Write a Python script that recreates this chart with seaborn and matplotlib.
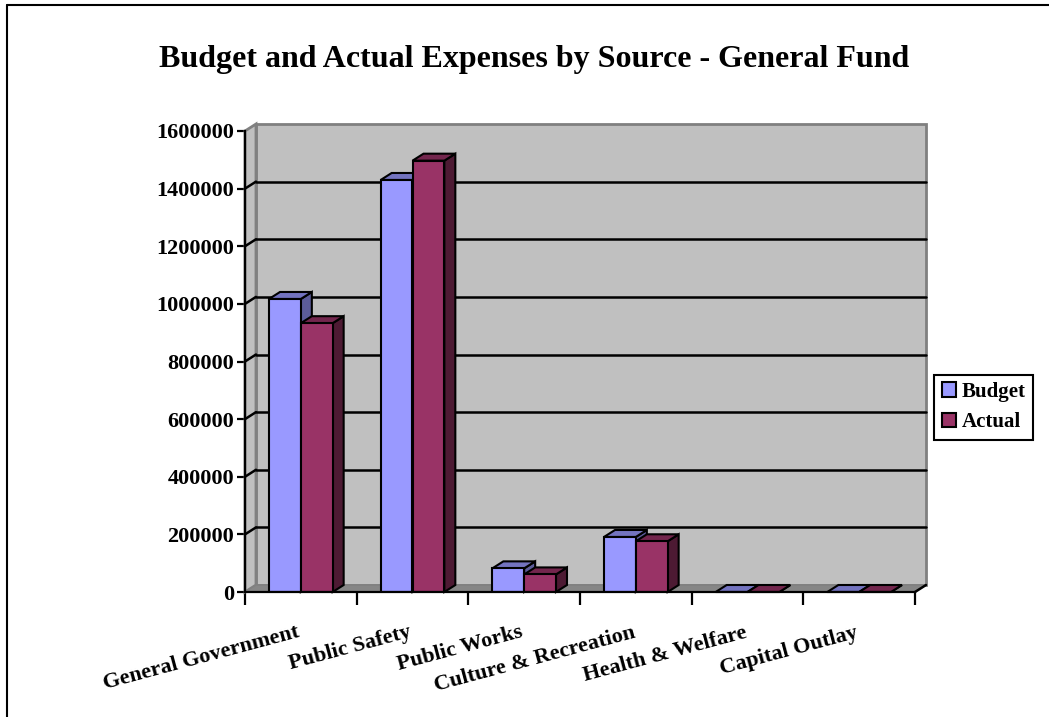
import numpy as np
import pandas as pd
import matplotlib
matplotlib.use("Agg")
import matplotlib.pyplot as plt
import matplotlib.transforms as mtransforms
from matplotlib.patches import Polygon, Rectangle, Patch
from matplotlib.lines import Line2D
import seaborn as sns

# data
categories = ["General Government", "Public Safety", "Public Works",
              "Culture & Recreation", "Health & Welfare", "Capital Outlay"]
budget = [1017000, 1430000, 82000, 191000, 0, 0]
actual = [933000, 1497000, 61000, 176000, 0, 0]
series = ["Budget", "Actual"]
yticks = [0, 200000, 400000, 600000, 800000, 1000000, 1200000, 1400000, 1600000]

front_colors = {"Budget": "#9999FF", "Actual": "#993366"}
top_colors = {"Budget": "#7373BF", "Actual": "#73264D"}
side_colors = {"Budget": "#5C5C99", "Actual": "#4D1A33"}

df = pd.DataFrame({
    "category": categories * 2,
    "series": ["Budget"] * len(categories) + ["Actual"] * len(categories),
    "value": budget + actual,
})

sns.set_style("white")
plt.rcParams["font.family"] = ["Liberation Serif", "DejaVu Serif"]
plt.rcParams["font.weight"] = "bold"
plt.rcParams["text.color"] = "black"
plt.rcParams["xtick.color"] = "black"
plt.rcParams["ytick.color"] = "black"

W, H, DPI = 1049, 717, 100
fig = plt.figure(figsize=(W / DPI, H / DPI), dpi=DPI)
ax = fig.add_axes([245 / W, (H - 592) / H, 670 / W, (592 - 131) / H])

sns.barplot(data=df, x="category", y="value", hue="series", order=categories,
            hue_order=series, palette=front_colors, width=0.57,
            edgecolor="black", linewidth=1.5, saturation=1, legend=False,
            ax=ax, zorder=3)

ax.set_xlim(-0.5, len(categories) - 0.5)
ax.set_ylim(0, 1600000)
ax.patch.set_visible(False)
ax.set_xlabel("")
ax.set_ylabel("")

# depth offset of the 3d look, in pixels
DX, DY = 11, 7
ident = mtransforms.IdentityTransform()
off = mtransforms.ScaledTranslation(DX / DPI, DY / DPI, fig.dpi_scale_trans)


def disp(x, y, tr):
    return tr.transform((x, y))


# back wall, side wall, floor
p00 = disp(0, 0, ax.transAxes)
p01 = disp(0, 1, ax.transAxes)
p10 = disp(1, 0, ax.transAxes)
d = np.array([DX, DY])
ax.add_patch(Rectangle((0, 0), 1, 1, transform=ax.transAxes + off,
                       facecolor="#C0C0C0", edgecolor="#808080", lw=2,
                       clip_on=False, zorder=0.5))
ax.add_patch(Polygon([p00, p01, p01 + d, p00 + d], closed=True, transform=ident,
                     facecolor="#C0C0C0", edgecolor="#808080", lw=2,
                     clip_on=False, zorder=0.6))
ax.add_patch(Polygon([p00, p10, p10 + d, p00 + d], closed=True, transform=ident,
                     facecolor="#868686", edgecolor="#808080", lw=1,
                     clip_on=False, zorder=0.6))

# gridlines on the back wall and connectors on the side wall
ytr = ax.get_yaxis_transform()
for t in yticks[1:-1]:
    ax.add_line(Line2D([0, 1], [t, t], transform=ytr + off,
                       color="black", lw=1.8, clip_on=False, zorder=1))
    a = disp(0, t, ytr)
    ax.add_line(Line2D([a[0], a[0] + DX], [a[1], a[1] + DY], transform=ident,
                       color="black", lw=1.8, clip_on=False, zorder=1))
ax.add_line(Line2D([p10[0], p10[0] + DX], [p10[1], p10[1] + DY], transform=ident,
                   color="black", lw=1.8, clip_on=False, zorder=4))

# top and side faces of the bars
bars = sorted([p for p in ax.patches if p.get_zorder() == 3], key=lambda p: p.get_x())
for i, bar in enumerate(bars):
    s = series[i % 2]
    x0, x1 = bar.get_x(), bar.get_x() + bar.get_width()
    h = bar.get_height()
    tl = disp(x0, h, ax.transData)
    tr = disp(x1, h, ax.transData)
    br = disp(x1, 0, ax.transData)
    ax.add_patch(Polygon([br, tr, tr + d, br + d], closed=True, transform=ident,
                         facecolor=side_colors[s], edgecolor="black", lw=1.5,
                         clip_on=False, zorder=2 + i * 0.001))
    ax.add_patch(Polygon([tl, tr, tr + d, tl + d], closed=True, transform=ident,
                         facecolor=top_colors[s], edgecolor="black", lw=1.5,
                         clip_on=False, zorder=2 + i * 0.001 + 0.0005))

# axes
for sp in ["top", "right"]:
    ax.spines[sp].set_visible(False)
for sp in ["left", "bottom"]:
    ax.spines[sp].set_color("black")
    ax.spines[sp].set_linewidth(1.6)
    ax.spines[sp].set_zorder(4)

ax.set_yticks(yticks)
ax.set_yticklabels([str(t) for t in yticks], fontsize=16, fontweight="bold")
ax.tick_params(axis="y", left=True, direction="out", length=6, width=1.6,
               color="black", pad=2)

ax.set_xticks(np.arange(-0.5, len(categories), 1.0))
ax.set_xticklabels([])
ax.tick_params(axis="x", which="major", bottom=True, direction="out", length=9,
               width=1.6, color="black")
ax.set_xticks(np.arange(len(categories)), minor=True)
ax.set_xticklabels(categories, minor=True, fontsize=16, fontweight="bold",
                   rotation=15, ha="right", va="top", rotation_mode="anchor")
ax.tick_params(axis="x", which="minor", bottom=True, length=0, pad=22)
for lab in ax.get_xticklabels(minor=True):
    lab.set_transform(lab.get_transform() +
                      mtransforms.ScaledTranslation(-4 / DPI, 0, fig.dpi_scale_trans))

# title
fig.text(534.5 / W, 1 - 60 / H, "Budget and Actual Expenses by Source - General Fund",
         ha="center", va="center", fontsize=23, fontweight="bold")

# legend
handles = [Patch(facecolor=front_colors[s], edgecolor="black", lw=1.5) for s in series]
leg = fig.legend(handles, series, loc="center",
                 bbox_to_anchor=(983.5 / W, 1 - 407 / H), frameon=True,
                 fancybox=False, edgecolor="black", framealpha=1,
                 prop={"family": "Liberation Serif", "weight": "bold", "size": 15},
                 handlelength=0.7, handleheight=0.7, handletextpad=0.25,
                 borderpad=0.35, labelspacing=0.5, borderaxespad=0)
leg.get_frame().set_linewidth(1.5)

# outer frame (left and top edges)
fig.add_artist(Line2D([6.5 / W, 6.5 / W], [0, 1 - 5 / H], transform=fig.transFigure,
                      color="black", lw=1.5))
fig.add_artist(Line2D([6.5 / W, 1], [1 - 5 / H, 1 - 5 / H], transform=fig.transFigure,
                      color="black", lw=1.5))

fig.savefig("out.png", dpi=DPI)
